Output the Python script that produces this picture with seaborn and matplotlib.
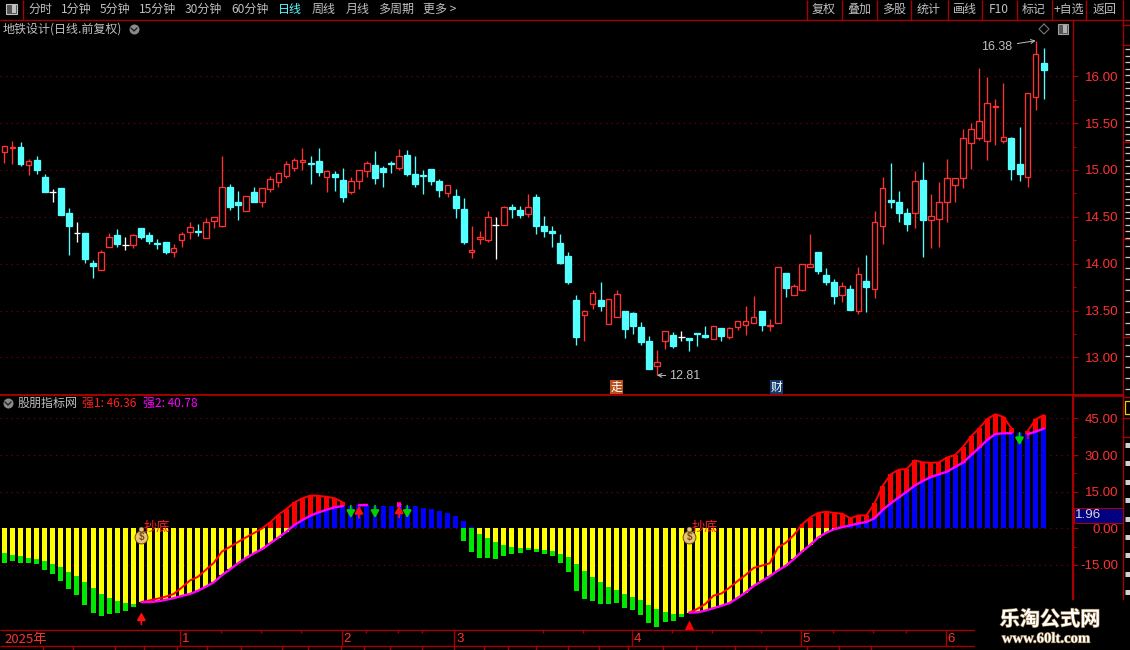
import numpy as np
import pandas as pd
import matplotlib
matplotlib.use('Agg')
import matplotlib.pyplot as plt
import matplotlib.patheffects as pe
from matplotlib.patches import Rectangle
import seaborn as sns

# daily candles
opens = [15.19,15.23,15.25,15.05,15.11,14.93,14.77,14.81,14.54,14.33,14.33,14.01,13.93,14.18,14.31,14.20,14.20,14.38,14.31,14.22,
         14.23,14.12,14.25,14.34,14.35,14.27,14.46,14.40,14.82,14.66,14.56,14.76,14.66,14.80,14.87,14.94,15.02,15.09,15.08,15.10,
         14.92,14.96,14.89,14.77,14.88,14.99,15.05,15.02,15.07,15.02,15.16,14.96,14.95,15.01,14.88,14.75,14.72,14.58,14.12,14.26,
         14.25,14.41,14.41,14.61,14.57,14.53,14.71,14.40,14.35,14.22,14.08,13.61,13.45,13.57,13.61,13.36,13.43,13.50,13.47,13.32,
         13.18,12.91,13.17,13.24,13.22,13.21,13.26,13.24,13.20,13.31,13.22,13.32,13.35,13.37,13.50,13.33,13.37,13.90,13.67,13.72,
         13.96,14.13,13.88,13.80,13.67,13.73,13.49,13.82,13.73,14.40,14.68,14.66,14.54,14.54,14.89,14.47,14.48,14.66,14.84,14.91,
         15.29,15.34,15.31,15.67,15.31,15.34,15.06,14.93,15.78,16.14]
highs = [15.26,15.31,15.30,15.12,15.15,14.96,14.80,14.81,14.59,14.45,14.33,14.04,14.15,14.33,14.37,14.29,14.32,14.38,14.34,14.26,
         14.23,14.21,14.34,14.45,14.42,14.49,14.50,15.15,14.85,14.78,14.72,14.82,14.81,14.94,14.98,15.10,15.13,15.24,15.15,15.24,
         15.00,14.99,15.02,14.92,15.00,15.10,15.20,15.04,15.10,15.22,15.21,15.15,15.00,15.01,14.90,14.84,14.80,14.70,14.40,14.35,
         14.56,14.50,14.62,14.64,14.62,14.74,14.74,14.51,14.40,14.32,14.12,13.67,13.51,13.72,13.81,13.62,13.72,13.50,13.48,13.38,
         13.23,13.08,13.28,13.27,13.28,13.21,13.26,13.34,13.33,13.31,13.32,13.39,13.55,13.65,13.50,13.41,13.96,13.90,13.78,14.00,
         14.32,14.13,13.95,13.84,13.81,13.77,13.96,14.09,14.56,14.92,15.08,14.78,14.59,14.99,15.09,14.74,14.87,15.12,14.91,15.44,
         15.50,16.09,15.99,15.76,15.93,15.35,15.46,15.82,16.38,16.30]
lows = [15.07,15.06,15.04,14.95,14.96,14.76,14.66,14.52,14.09,14.23,14.01,13.85,13.93,14.18,14.18,14.15,14.17,14.26,14.21,14.16,
        14.10,14.07,14.18,14.26,14.30,14.27,14.38,14.39,14.57,14.47,14.56,14.66,14.61,14.76,14.82,14.91,14.99,15.00,14.85,14.94,
        14.76,14.78,14.66,14.74,14.80,14.93,14.85,14.82,14.97,15.00,14.94,14.82,14.74,14.84,14.71,14.71,14.49,14.21,14.06,14.21,
        14.23,14.05,14.41,14.49,14.49,14.50,14.32,14.28,14.18,14.00,13.78,13.13,13.18,13.52,13.49,13.36,13.43,13.21,13.25,13.13,
        12.88,12.81,13.09,13.10,13.18,13.07,13.12,13.21,13.20,13.18,13.20,13.29,13.24,13.37,13.28,13.28,13.37,13.64,13.67,13.71,
        13.96,13.89,13.77,13.57,13.59,13.51,13.46,13.48,13.63,14.21,14.59,14.44,14.35,14.38,14.07,14.17,14.18,14.45,14.66,14.81,
        15.01,15.32,15.11,15.27,15.29,14.89,14.88,14.82,15.64,15.76]
closes = [15.26,15.25,15.06,15.10,15.00,14.76,14.77,14.52,14.40,14.33,14.05,13.98,14.13,14.28,14.21,14.20,14.31,14.28,14.24,14.21,
          14.13,14.17,14.32,14.39,14.34,14.45,14.50,14.82,14.60,14.63,14.72,14.66,14.81,14.90,14.97,15.06,15.11,15.11,15.06,14.98,
          14.99,14.92,14.71,14.88,15.00,15.07,14.91,14.98,15.06,15.15,14.96,14.85,14.94,14.88,14.79,14.84,14.59,14.23,14.15,14.28,
          14.50,14.41,14.60,14.58,14.52,14.61,14.40,14.35,14.33,14.01,13.80,13.22,13.50,13.69,13.55,13.62,13.68,13.30,13.34,13.16,
          12.88,12.95,13.28,13.12,13.22,13.19,13.25,13.22,13.33,13.23,13.31,13.39,13.39,13.43,13.35,13.35,13.96,13.74,13.76,14.00,
          14.00,13.92,13.80,13.66,13.76,13.51,13.89,13.75,14.44,14.81,14.66,14.54,14.42,14.88,14.47,14.51,14.66,14.91,14.91,15.34,
          15.44,15.52,15.72,15.68,15.35,15.01,14.96,15.82,16.24,16.07]

# indicator values
strong1 = [-14.2,-13.4,-14.2,-14.2,-14.6,-17.1,-18.7,-21.6,-24.8,-27.3,-31.4,-34.7,-35.9,-35.1,-34.7,-33.8,-32.2,-30.2,-29.5,-28.8,
           -28.0,-26.9,-24.3,-21.4,-19.9,-17.0,-14.1,-9.5,-7.6,-5.6,-3.7,-1.9,0.0,2.5,5.5,7.9,10.6,12.3,13.4,13.3,
           12.9,12.3,10.6,9.0,9.6,9.7,8.9,8.9,9.0,9.8,8.9,8.5,7.5,6.5,5.5,4.0,2.5,-5.2,-9.7,-12.1,
           -12.1,-12.6,-11.3,-10.5,-10.1,-8.9,-9.7,-10.5,-11.3,-14.2,-17.9,-25.6,-28.9,-29.7,-31.0,-31.0,-30.6,-32.6,-33.4,-35.5,
           -38.7,-40.4,-38.3,-37.9,-36.3,-34.5,-33.0,-31.0,-27.6,-26.7,-24.3,-21.6,-19.1,-16.2,-15.3,-14.3,-7.9,-5.9,-2.7,1.6,
           4.4,6.3,6.8,6.3,6.0,4.1,5.3,5.3,10.2,17.3,22.1,24.0,24.3,27.8,27.0,26.8,27.0,29.0,30.0,33.4,
           37.7,41.0,44.8,46.7,45.6,40.9,37.5,39.8,44.6,46.36]
strong2 = [-10.1,-10.9,-11.5,-12.1,-12.6,-13.4,-14.6,-15.8,-17.9,-19.5,-22.0,-24.4,-26.9,-28.5,-29.7,-30.6,-31.0,-30.2,-30.2,-29.9,
           -29.3,-28.6,-27.7,-26.9,-25.6,-23.9,-22.1,-19.2,-16.8,-14.3,-12.1,-10.2,-8.5,-6.1,-3.8,-1.4,1.4,3.4,5.2,6.5,
           7.6,8.6,9.1,9.1,9.4,9.5,9.1,9.1,9.1,9.6,9.1,9.1,8.3,7.9,7.1,6.3,5.0,3.0,0.5,-2.3,
           -4.0,-5.6,-6.8,-7.6,-8.0,-8.0,-8.5,-8.9,-9.3,-10.5,-11.7,-14.6,-17.5,-19.9,-22.0,-24.0,-25.2,-26.9,-28.1,-29.3,
           -31.4,-33.0,-34.2,-35.1,-35.1,-34.5,-34.4,-33.7,-32.7,-31.7,-30.6,-28.5,-26.3,-23.6,-21.6,-19.6,-17.3,-15.3,-12.6,-9.5,
           -6.9,-3.8,-1.8,-0.4,0.5,1.2,2.0,2.6,4.1,7.5,10.2,12.6,15.0,17.5,19.4,21.0,22.1,23.2,25.1,26.9,
           30.0,33.0,36.2,38.6,38.9,38.9,38.9,38.5,39.6,40.78]

price_ticks = [13.0, 13.5, 14.0, 14.5, 15.0, 15.5, 16.0]
strength_ticks = [-15, 0, 15, 30, 45]
month_labels = ['1', '2', '3', '4', '5', '6']
month_starts = [22, 42, 56, 78, 99, 117]
week_starts = [27, 32, 37, 45, 49, 52, 67, 72, 83, 88, 94, 103, 108, 112]
bottom_signals = [17, 85]
sell_arrows = [43, 46, 50, 126]
buy_arrows = [44, 49]
menu_left = ['分时', '1分钟', '5分钟', '15分钟', '30分钟', '60分钟', '日线', '周线', '月线', '多周期', '更多 >']
menu_right = ['复权', '叠加', '多股', '统计', '画线', 'F10', '标记', '+自选', '返回']

W, H = 1130, 650
DARK = '#a80000'
TXT_RED = '#ff3232'
GREY = '#c0c0c0'
CJK = ['Noto Sans CJK SC', 'DejaVu Sans']
NUM = ['Liberation Sans', 'DejaVu Sans']
EDGE = 0.95

sns.set_theme(style='dark', rc={'axes.facecolor': 'black', 'figure.facecolor': 'black',
                                'savefig.facecolor': 'black', 'axes.edgecolor': DARK})
plt.rcParams['font.family'] = CJK

fig = plt.figure(figsize=(W / 100, H / 100), dpi=100)


def px_axes(x0, y0, x1, y1):
    return fig.add_axes([x0 / W, 1 - y1 / H, (x1 - x0) / W, (y1 - y0) / H])


def style_value_axis(ax, ticks, minor, fmt):
    ax.yaxis.tick_right()
    ax.set_yticks(ticks)
    ax.set_yticks(minor, minor=True)
    ax.set_yticklabels([fmt % t for t in ticks], family=NUM, fontsize=9.6, color=TXT_RED, ha='right')
    ax.tick_params(axis='y', which='major', length=3.8, width=0.8, color=DARK, pad=29, right=True, left=False)
    ax.tick_params(axis='y', which='minor', length=1.8, width=0.8, color=DARK, right=True, left=False)
    ax.set_xticks([])
    ax.set_xlabel('')
    ax.set_ylabel('')
    ax.grid(True, axis='y', which='major', color='#8c0000', lw=0.8, ls=(0, (1, 4)))
    ax.grid(False, axis='x')
    ax.set_axisbelow(True)
    for side in ['left', 'top', 'bottom']:
        ax.spines[side].set_visible(False)
    ax.spines['right'].set_color(DARK)
    ax.spines['right'].set_linewidth(1)


# candles
candles = pd.DataFrame({'open': opens, 'high': highs, 'low': lows, 'close': closes})
candles['idx'] = candles.index
up = candles[candles.close > candles.open]
down = candles[candles.close < candles.open]
flat = candles[candles.close == candles.open]

ax1 = px_axes(0, 20, 1072.7, 394)
C_UP, C_DOWN = '#ff3232', '#54ffff'
for part, col in [(up, C_UP), (down, C_DOWN), (flat, 'white')]:
    ax1.vlines(part.idx, part.low, part.high, color=col, lw=EDGE, snap=True, zorder=2)
ax1.bar(up.idx, up.close - up.open, bottom=up.open, width=0.7, facecolor='black', edgecolor=C_UP,
        lw=EDGE, joinstyle='miter', snap=True, zorder=3)
ax1.bar(down.idx, down.open - down.close, bottom=down.close, width=0.74, facecolor=C_DOWN, edgecolor=C_DOWN,
        lw=EDGE, joinstyle='miter', snap=True, zorder=3)
ax1.hlines(flat.close, flat.idx - 0.42, flat.idx + 0.42, color='white', lw=EDGE, snap=True, zorder=3)
ax1.set_xlim(-0.546, 132.6)
ax1.set_ylim(16 - (394 - 76.3) / 93.7, 16 + (76.3 - 20) / 93.7)
style_value_axis(ax1, price_ticks, [13.25, 13.75, 14.25, 14.75, 15.25, 15.75], '%.2f')

i_high = int(np.argmax(highs))
i_low = int(np.argmin(lows))
ax1.annotate('%.2f' % highs[i_high], xy=(i_high, highs[i_high]), xytext=(-23, -6), textcoords='offset pixels',
             ha='right', va='center', family=NUM, fontsize=9, color=GREY,
             arrowprops=dict(arrowstyle='->', color=GREY, lw=0.7, shrinkA=1, shrinkB=0, mutation_scale=7), zorder=5)
ax1.annotate('%.2f' % lows[i_low], xy=(i_low, lows[i_low]), xytext=(12, -1), textcoords='offset pixels',
             ha='left', va='center', family=NUM, fontsize=9, color=GREY,
             arrowprops=dict(arrowstyle='->', color=GREY, lw=0.7, shrinkA=0, shrinkB=0, mutation_scale=7), zorder=5)

# indicator
df = pd.DataFrame({'idx': np.arange(len(strong1)), 'strong1': strong1, 'strong2': strong2})
df['on'] = df.strong1 >= df.strong2
df['c1'] = np.where(df.on, 'r', 'g')
df['c2'] = np.where(df.strong2 > 0, 'b', 'y')

ax2 = px_axes(0, 395, 1072.7, 630)
sns.barplot(data=df, x='idx', y='strong1', hue='c1', palette={'r': '#ff0000', 'g': '#00e800'}, native_scale=True,
            dodge=False, width=0.62, errorbar=None, saturation=1, legend=False, linewidth=0, ax=ax2, zorder=2)
sns.barplot(data=df, x='idx', y='strong2', hue='c2', palette={'b': '#0000ff', 'y': '#ffff00'}, native_scale=True,
            dodge=False, width=0.62, errorbar=None, saturation=1, legend=False, linewidth=0, ax=ax2, zorder=2.5)
for patch in ax2.patches:
    patch.set_antialiased(False)

# the two lines only exist while strong1 is on top
df['run'] = (df.on != df.on.shift()).cumsum()
for _, seg in df[df.on].groupby('run'):
    mark = {'marker': 's', 'markersize': 3.5, 'markeredgewidth': 0} if len(seg) == 1 else {}
    sns.lineplot(data=seg, x='idx', y='strong1', color='#ff0000', lw=1.4, ax=ax2, zorder=4, errorbar=None, **mark)
    sns.lineplot(data=seg, x='idx', y='strong2', color='#ff00ff', lw=1.7, ax=ax2, zorder=5, errorbar=None, **mark)

ax2.set_xlim(-0.546, 132.6)
ax2.set_ylim((528.3 - 630) / 2.443, (528.3 - 395) / 2.443)
style_value_axis(ax2, strength_ticks, [-7.5, 7.5, 22.5, 37.5], '%.2f')


def arrow(i, tip, tail, col):
    ax2.annotate('', xy=(i, tip), xytext=(i, tail),
                 arrowprops=dict(arrowstyle='-|>,head_width=0.24,head_length=0.42', color=col, lw=1.2,
                                 shrinkA=0, shrinkB=0, mutation_scale=11, joinstyle='miter'), zorder=7)


for i in sell_arrows:
    arrow(i, strong2[i] - 4.9, strong2[i] + 0.2, '#00d000')
for i in buy_arrows:
    arrow(i, strong2[i] - 0.2, strong2[i] - 5.2, '#ff1010')
ax2.vlines(127, strong2[127] - 2, strong2[127], color='#ff0000', lw=1.2, zorder=4)

for n, i in enumerate(bottom_signals):
    ax2.text(i + 0.3, 0.4, '抄底', color='#ff2020', fontsize=9.5, ha='left', va='center', zorder=6)
    ax2.scatter([i], [-3.4], s=85, color='#e6c27a', edgecolor='#6b4a18', lw=0.7, zorder=7)
    ax2.scatter([i], [-0.2], s=12, color='#e6c27a', edgecolor='#6b4a18', lw=0.4, zorder=7)
    ax2.text(i, -3.5, '$', color='#7a4a10', fontsize=7, ha='center', va='center', weight='bold', family=NUM, zorder=8)
    if n == 0:
        arrow(i, strong1[i] - 4.2, strong1[i] - 9.2, '#ff1010')
    else:
        ax2.scatter([i], [-39.6], marker='^', s=50, color='#ff0000', lw=0, zorder=7, clip_on=False)

# screen furniture, in pixels
ui = fig.add_axes([0, 0, 1, 1], zorder=10)
ui.set_xlim(0, W)
ui.set_ylim(H, 0)
ui.axis('off')
ui.patch.set_visible(False)


def txt(x, y, s, col=GREY, size=8.64, ha='left', **kw):
    ui.text(x, y, s, color=col, fontsize=size, ha=ha, va='center', **kw)


ui.hlines(19.5, 0, W, color=DARK, lw=1)
ui.vlines(23, 0, 19.5, color=DARK, lw=1)
ui.vlines([807, 841.5, 876.5, 911, 948, 981.5, 1016.5, 1052, 1086, 1123], 0, 19.5, color=DARK, lw=1)
ui.add_patch(Rectangle((6, 4), 11, 10, fc='#555555', ec=GREY, lw=0.8))
ui.add_patch(Rectangle((12, 5), 4, 8, fc=GREY, ec='none'))

left_x = [28, 61, 100, 139, 185, 231, 278, 312, 346, 378, 423]
for x, s in zip(left_x, menu_left):
    txt(x, 9.5, s, col='#54ffff' if s == '日线' else GREY)
right_x = [824, 859, 894, 929, 965, 999, 1034, 1069, 1105]
for x, s in zip(right_x, menu_right):
    txt(x, 9.5, s, ha='center')

txt(3, 29, '地铁设计(日线.前复权)')
for cx, cy in [(134, 29), (8, 403)]:
    ui.scatter([cx], [cy], s=52, color='#8a8a8a', lw=0, zorder=3)
    ui.plot([cx - 3, cx, cx + 3], [cy - 1, cy + 2, cy - 1], color='#202020', lw=1, zorder=4)
ui.plot([1044, 1049, 1044, 1039, 1044], [24, 29, 34, 29, 24], color='#777777', lw=0.8)
ui.add_patch(Rectangle((1058, 24), 10, 10, fc='#555555', ec='#a0a0a0', lw=0.8))
ui.add_patch(Rectangle((1063, 25), 4, 8, fc='#b0b0b0', ec='none'))

txt(18, 403, '股朋指标网')
txt(82, 403, '强1: %.2f' % strong1[-1], col='#ff2020')
txt(143, 403, '强2: %.2f' % strong2[-1], col='#ff00ff')

ui.hlines(394.5, 0, 1122.7, color='#c00000', lw=1.2)
ui.hlines(395.5, 1072.7, 1122.7, color=DARK, lw=1.2)
ui.vlines(1122.7, 20, 600, color=DARK, lw=1)
ui.vlines(1073, 395, 600, color=DARK, lw=1.5)

# money-flow style tags
for x, s, bg in [(610, '走', '#b8501c'), (770, '财', '#123c70')]:
    ui.add_patch(Rectangle((x, 380), 12.5, 14, fc=bg, ec='none', zorder=5))
    ui.text(x + 6.2, 387, s, color='white', fontsize=8.5, ha='center', va='center', zorder=6)

# last value box
ui.add_patch(Rectangle((1073.5, 507.5), 49, 15.5, fc='#000080', ec=DARK, lw=0.8, zorder=5))
ui.text(1074.5, 515.5, '1.96', color='#d8d8d8', family=NUM, fontsize=9.6, ha='left', va='center', zorder=6)

# clipped sidebar on the far right
ui.hlines([25, 45, 142, 239, 337, 397, 418, 437], 1122.7, W, color=DARK, lw=1)
ui.hlines(np.arange(49, 240, 6.5), 1125, W, color='#c8c8c8', lw=0.9)
ui.hlines(np.arange(246, 335, 11), 1125, W, color='#c8c8c8', lw=0.9)
ui.hlines(np.arange(345, 395, 11), 1125, W, color='#c8c8c8', lw=0.9)
ui.add_patch(Rectangle((1125, 401), 6, 13, fc='none', ec='#e8d000', lw=0.9))
ui.hlines(np.arange(445, 600, 18.4), 1125, W, color='#d0d0d0', lw=3.6)

# date strip
ui.hlines([630.3, 646.3], 0, 978, color=DARK, lw=1)
trans = ax2.transData
for s, i in zip(['2025年'] + month_labels, [None] + month_starts):
    if i is None:
        txt(4, 639, s, col=TXT_RED, size=9.5)
        continue
    x = trans.transform((i - 0.15, 0))[0] / (fig.dpi * fig.get_figwidth()) * W
    ui.vlines(x, 630.3, 646.3, color=DARK, lw=1)
    txt(x + 2, 639, s, col=TXT_RED, size=9.5, family=NUM)
for i in week_starts:
    x = trans.transform((i - 0.15, 0))[0] / (fig.dpi * fig.get_figwidth()) * W
    ui.vlines(x, 630.3, 633, color=DARK, lw=1)
ui.vlines([43, 73, 115, 144, 177, 207, 241, 282, 308, 341, 364, 390, 422, 454, 484, 508, 536, 568, 599, 628,
           663, 696, 735, 766, 807, 839, 871], 646.3, 650, color=DARK, lw=1)

# site watermark sits on a black patch
ui.add_patch(Rectangle((975, 600), 155, 50, fc='black', ec='none', zorder=8))
shadow = [pe.withStroke(linewidth=0.9, foreground='#8a6a3a')]
ui.text(1050, 619, '乐淘公式网', color='white', fontsize=14.5, weight='bold', ha='center', va='center',
        family=['Noto Sans CJK SC', 'DejaVu Sans'], path_effects=shadow, zorder=9)
ui.text(1046, 639, 'www.60lt.com', color='white', fontsize=10.6, weight='bold', ha='center', va='center',
        family=['Liberation Serif', 'DejaVu Serif'], path_effects=shadow, zorder=9)

fig.savefig('out.png', dpi=100, facecolor='black')
